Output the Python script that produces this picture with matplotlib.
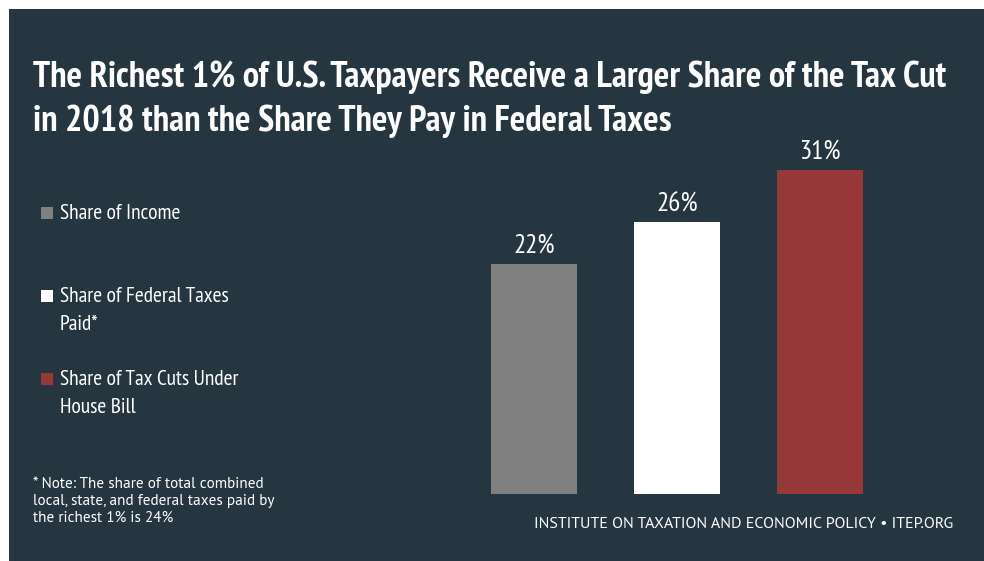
import matplotlib.pyplot as plt
from matplotlib.patches import Rectangle

# Data
labels = ["Share of Income", "Share of Federal Taxes\nPaid*", "Share of Tax Cuts Under\nHouse Bill"]
values = [22, 26, 31]
colors = ["#808080", "#ffffff", "#963838"]

BG = "#253640"
W, H = 984, 561

plt.rcParams["font.family"] = ["PT Sans Narrow", "DejaVu Sans"]

fig = plt.figure(figsize=(W / 100, H / 100), dpi=100)
fig.patch.set_facecolor("white")
fig.add_artist(Rectangle((9 / W, 0), 1, (H - 9) / H, transform=fig.transFigure,
                         facecolor=BG, edgecolor="none", zorder=0))

def fx(px):
    return px / W

def fy(py):
    return 1 - py / H

# axes placed in pixel terms: bar bottom at y=494, 10.45 px per percentage point
ax = fig.add_axes([fx(462.5), fy(494), fx(429), (35 * 10.45) / H])
ax.set_facecolor("none")
ax.bar(range(len(values)), values, width=0.6, color=colors, zorder=2)
ax.set_xlim(-0.5, 2.5)
ax.set_ylim(0, 35)
ax.axis("off")
for i, v in enumerate(values):
    ax.text(i, v + 1.05, f"{v}%", ha="center", va="baseline", color="white", fontsize=19.5)

# Title
fig.text(fx(33), fy(131), "The Richest 1% of U.S. Taxpayers Receive a Larger Share of the Tax Cut\n"
         "in 2018 than the Share They Pay in Federal Taxes",
         color="white", fontsize=26.2, fontweight="bold", ha="left", va="baseline",
         linespacing=1.38)

# Legend
leg_y = [219, 330, 413]
for lab, col, y in zip(labels, colors, leg_y):
    top = y - 12 if "\n" not in lab else y - 28 - 12
    fig.add_artist(Rectangle((fx(41), fy(top + 12)), fx(12), 12 / H, transform=fig.transFigure,
                             facecolor=col, edgecolor="none"))
    fig.text(fx(60), fy(y), lab, color="white", fontsize=15.5, ha="left",
             va="baseline", linespacing=1.6)

# Note
fig.text(fx(33), fy(522), "* Note: The share of total combined\nlocal, state, and federal taxes paid by\n"
         "the richest 1% is 24%", color="white", fontsize=11, ha="left", va="baseline",
         linespacing=1.28, family=["PT Sans", "DejaVu Sans"])

# Footer
fig.text(fx(953), fy(528), "INSTITUTE ON TAXATION AND ECONOMIC POLICY \u2022 ITEP.ORG",
         color="white", fontsize=11.5, ha="right", va="baseline", family=["PT Sans", "DejaVu Sans"])

fig.savefig("out.png", dpi=100, facecolor=fig.get_facecolor())
